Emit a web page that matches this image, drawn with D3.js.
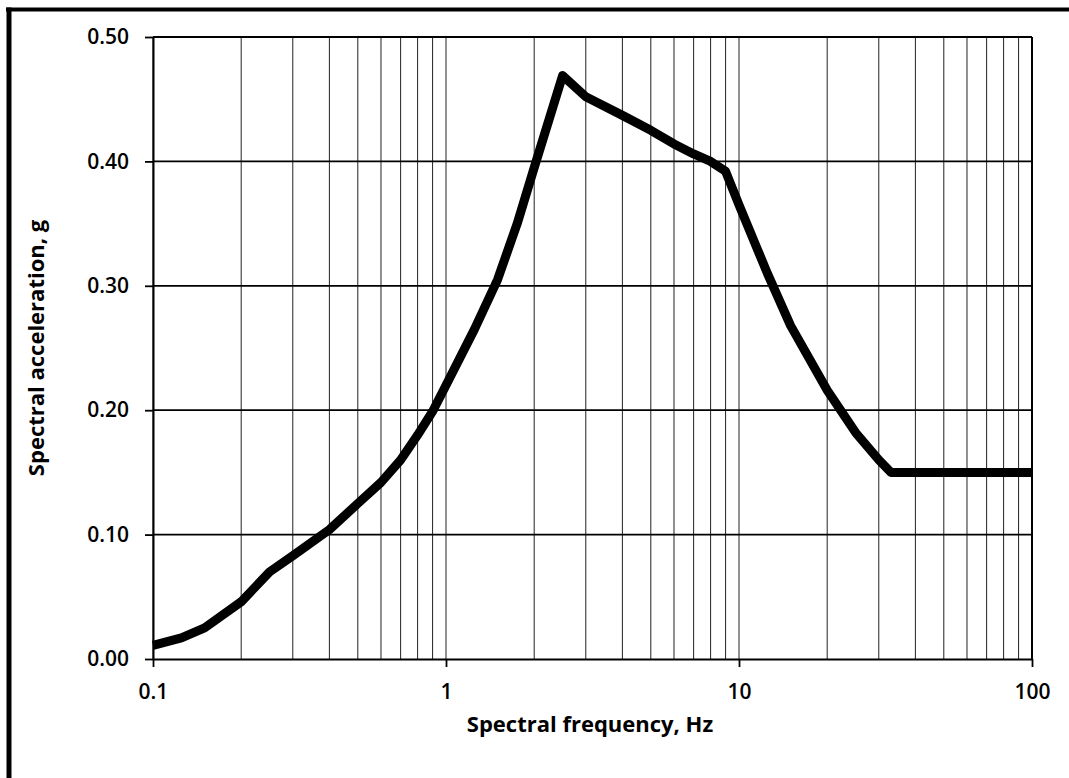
<!DOCTYPE html>
<html>
<head>
<meta charset="utf-8">
<script src="https://cdnjs.cloudflare.com/ajax/libs/d3/7.8.5/d3.min.js"></script>
<style>
  body { margin: 0; background: #fff; }
  svg text { font-family: "Open Sans", "Liberation Sans", sans-serif; fill: #000; }
</style>
</head>
<body>
<div id="chart"></div>
<script>
// spectrum
var freq = [0.1, 0.125, 0.15, 0.2, 0.25, 0.3, 0.4, 0.5, 0.6, 0.7, 0.8, 0.9, 1, 1.25, 1.5, 1.75, 2, 2.5, 3, 4, 5, 6, 7, 8, 9, 10, 12.5, 15, 20, 25, 30, 33, 100];
var accel = [0.011, 0.017, 0.025, 0.046, 0.070, 0.083, 0.104, 0.125, 0.142, 0.160, 0.180, 0.199, 0.220, 0.265, 0.305, 0.350, 0.395, 0.469, 0.452, 0.437, 0.425, 0.414, 0.406, 0.400, 0.392, 0.365, 0.310, 0.268, 0.216, 0.182, 0.160, 0.150, 0.150];
var xTicks = [0.1, 1, 10, 100];
var yTicks = [0, 0.1, 0.2, 0.3, 0.4, 0.5];

var svgWidth = 1069;
var svgHeight = 778;
var margin = {top: 37, right: 37, bottom: 119, left: 153};
var width = svgWidth - margin.left - margin.right;
var height = svgHeight - margin.top - margin.bottom;

var svg = d3.select("#chart")
  .append("svg")
  .attr("width", svgWidth)
  .attr("height", svgHeight);

// outer frame (top and left edges show, rest is cut off)
svg.append("line")
  .attr("x1", 6).attr("x2", svgWidth).attr("y1", 9.5).attr("y2", 9.5)
  .attr("stroke", "#000").attr("stroke-width", 4);
svg.append("line")
  .attr("x1", 9).attr("x2", 9).attr("y1", 7.5).attr("y2", svgHeight)
  .attr("stroke", "#000").attr("stroke-width", 5);

var chartGroup = svg.append("g")
  .attr("transform", `translate(${margin.left}, ${margin.top})`);

var xScale = d3.scaleLog().domain([0.1, 100]).range([0, width]);
var yScale = d3.scaleLinear().domain([0, 0.5]).range([height, 0]);

// vertical grid, every log step
chartGroup.append("g")
  .selectAll("line")
  .data(xScale.ticks())
  .enter()
  .append("line")
  .attr("x1", d => xScale(d))
  .attr("x2", d => xScale(d))
  .attr("y1", 0)
  .attr("y2", height)
  .attr("stroke", "#222")
  .attr("stroke-width", 1);

// horizontal grid
chartGroup.append("g")
  .selectAll("line")
  .data(yTicks.slice(1))
  .enter()
  .append("line")
  .attr("x1", 0)
  .attr("x2", width)
  .attr("y1", d => yScale(d))
  .attr("y2", d => yScale(d))
  .attr("stroke", "#000")
  .attr("stroke-width", 1.8);

// right edge of plot
chartGroup.append("line")
  .attr("x1", width).attr("x2", width).attr("y1", 0).attr("y2", height)
  .attr("stroke", "#000").attr("stroke-width", 2);

var leftAxis = d3.axisLeft(yScale)
  .tickValues(yTicks)
  .tickFormat(d3.format(".2f"))
  .tickSize(8)
  .tickSizeOuter(0)
  .tickPadding(16);

var bottomAxis = d3.axisBottom(xScale)
  .tickValues(xTicks)
  .tickFormat(d => d < 1 ? "0.1" : d3.format("d")(d))
  .tickSize(8)
  .tickSizeOuter(0)
  .tickPadding(17);

var yAxis = chartGroup.append("g").call(leftAxis);
var xAxis = chartGroup.append("g")
  .attr("transform", `translate(0, ${height})`)
  .call(bottomAxis);

[xAxis, yAxis].forEach(function(ax) {
  ax.select(".domain").attr("stroke", "#000").attr("stroke-width", 2);
  ax.selectAll(".tick line").attr("stroke", "#000").attr("stroke-width", 1.8);
  ax.selectAll(".tick text")
    .style("font-family", "'Open Sans', sans-serif")
    .style("font-size", "21px")
    .style("font-weight", 600)
    .attr("fill", "#000");
});

// spectrum curve
var points = freq.map((f, i) => [f, accel[i]]);
var line = d3.line()
  .x(d => xScale(d[0]))
  .y(d => yScale(d[1]));

chartGroup.append("path")
  .datum(points)
  .attr("d", line)
  .attr("fill", "none")
  .attr("stroke", "#000")
  .attr("stroke-width", 9)
  .attr("stroke-linejoin", "round");

// axis titles
svg.append("text")
  .attr("x", 590)
  .attr("y", 732)
  .attr("text-anchor", "middle")
  .style("font-size", "22px")
  .style("font-weight", 700)
  .text("Spectral frequency, Hz");

svg.append("text")
  .attr("transform", `translate(36, ${margin.top + height / 2}) rotate(-90)`)
  .attr("text-anchor", "middle")
  .attr("dy", "0.35em")
  .style("font-size", "22px")
  .style("font-weight", 700)
  .text("Spectral acceleration, g");
</script>
</body>
</html>
